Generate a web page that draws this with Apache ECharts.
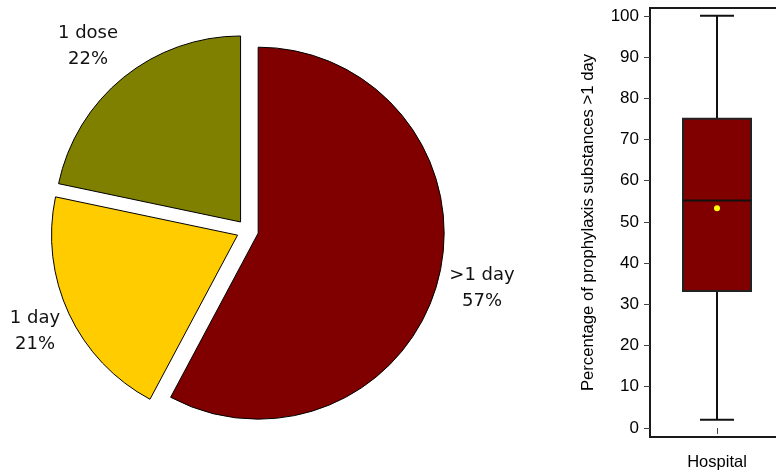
<!DOCTYPE html>
<html>
<head>
<meta charset="utf-8">
<script src="https://cdn.jsdelivr.net/npm/echarts@6/dist/echarts.min.js"></script>
<style>
  html, body { margin: 0; padding: 0; background: #fff; }
  #chart { width: 776px; height: 474px; }
</style>
</head>
<body>
<div id="chart"></div>
<script>
// pie: duration of prophylaxis
// slice sizes, printed shares as written on the chart
const pieNames = [">1 day", "1 day", "1 dose"];
const pieValues = [57.8, 20.5, 21.7];
const pieShares = [57, 21, 22];
const pieColors = ["#800000", "#ffcc00", "#808000"];

// box plot: percentage of prophylaxis substances >1 day
const boxCategories = ["Hospital"];
const boxStats = [[2, 33.2, 55.2, 75, 100]]; // min, q1, median, q3, max
const boxMeans = [53.3];
const yTicks = [0, 10, 20, 30, 40, 50, 60, 70, 80, 90, 100];

const chart = echarts.init(document.getElementById("chart"));

// pie geometry
const pieCenter = [247.5, 230.5];
const pieRadius = 186;
const explode = 11;
// where the pie labels sit (center of the two-line text)
const labelSpots = [[482, 288], [35, 331], [88, 46]];

// one pie series per slice so each slice can be pulled out along its own mid angle
const total = pieValues.reduce((a, b) => a + b, 0);
let acc = 0;
const pieSeries = pieValues.map((v, k) => {
  const mid = (acc + v / 2) / total * Math.PI * 2;
  acc += v;
  return {
    type: "pie",
    center: [pieCenter[0] + explode * Math.sin(mid), pieCenter[1] - explode * Math.cos(mid)],
    radius: pieRadius,
    startAngle: 90,
    clockwise: true,
    silent: true,
    emphasis: { disabled: true },
    labelLine: { show: false },
    label: {
      show: true,
      position: "inside",
      overflow: "none",
      formatter: p => p.name + "\n" + pieShares[p.dataIndex] + "%",
      fontFamily: "DejaVu Sans",
      fontSize: 18,
      lineHeight: 26,
      color: "#111",
      align: "center"
    },
    labelLayout: function (params) {
      const p = labelSpots[params.dataIndex];
      return { x: p[0], y: p[1], align: "center", verticalAlign: "middle" };
    },
    data: pieNames.map((n, i) => ({
      name: n,
      value: pieValues[i],
      itemStyle: i === k
        ? { color: pieColors[i], borderColor: "#000", borderWidth: 1 }
        : { color: "rgba(0,0,0,0)", borderWidth: 0 },
      label: { show: i === k }
    }))
  };
});

const option = {
  animation: false,
  backgroundColor: "#fff",
  grid: {
    left: 650,
    top: 8,
    bottom: 37,
    width: 134,
    outerBoundsMode: "none",
    show: true,
    borderColor: "#1a1a1a",
    borderWidth: 2
  },
  xAxis: {
    type: "category",
    data: boxCategories,
    axisLine: { show: false },
    axisTick: {
      show: true,
      alignWithLabel: true,
      length: 6,
      lineStyle: { color: "#444", width: 1 }
    },
    axisLabel: {
      margin: 17,
      fontFamily: "Liberation Sans",
      fontSize: 16.5,
      color: "#000"
    }
  },
  yAxis: {
    type: "value",
    min: -2.2,
    max: 101.9,
    name: "Percentage of prophylaxis substances >1 day",
    nameLocation: "middle",
    nameGap: 53,
    nameTextStyle: {
      fontFamily: "Liberation Sans",
      fontSize: 16.7,
      color: "#000"
    },
    axisLine: { show: false },
    splitLine: { show: false },
    axisTick: {
      show: true,
      length: 6,
      customValues: yTicks,
      lineStyle: { color: "#444", width: 1 }
    },
    axisLabel: {
      margin: 11,
      customValues: yTicks,
      fontFamily: "Liberation Sans",
      fontSize: 17,
      color: "#000"
    }
  },
  series: pieSeries.concat([
    {
      type: "custom",
      coordinateSystem: "cartesian2d",
      data: boxStats.map((s, i) => [i].concat(s)),
      renderItem: function (params, api) {
        const x = api.value(0);
        const pMin = api.coord([x, api.value(1)]);
        const pQ1 = api.coord([x, api.value(2)]);
        const pMed = api.coord([x, api.value(3)]);
        const pQ3 = api.coord([x, api.value(4)]);
        const pMax = api.coord([x, api.value(5)]);
        const cx = Math.round(pMin[0]);
        const half = 34;
        const cap = 17;
        const line = { stroke: "#111", lineWidth: 2 };
        return {
          type: "group",
          children: [
            { type: "line", shape: { x1: cx, y1: pMax[1], x2: cx, y2: pQ3[1] }, style: line },
            { type: "line", shape: { x1: cx, y1: pQ1[1], x2: cx, y2: pMin[1] }, style: line },
            { type: "line", shape: { x1: cx - cap, y1: pMax[1], x2: cx + cap, y2: pMax[1] }, style: line },
            { type: "line", shape: { x1: cx - cap, y1: pMin[1], x2: cx + cap, y2: pMin[1] }, style: line },
            {
              type: "rect",
              shape: { x: cx - half, y: pQ3[1], width: half * 2, height: pQ1[1] - pQ3[1] },
              style: { fill: "#800000", stroke: "#222", lineWidth: 2 }
            },
            { type: "line", shape: { x1: cx - half, y1: pMed[1], x2: cx + half, y2: pMed[1] }, style: line }
          ]
        };
      }
    },
    {
      type: "scatter",
      data: boxMeans.map((m, i) => [i, m]),
      symbol: "circle",
      symbolSize: 6,
      itemStyle: { color: "#ffff00", borderWidth: 0, opacity: 1 },
      z: 5
    }
  ])
};

chart.setOption(option);
</script>
</body>
</html>
